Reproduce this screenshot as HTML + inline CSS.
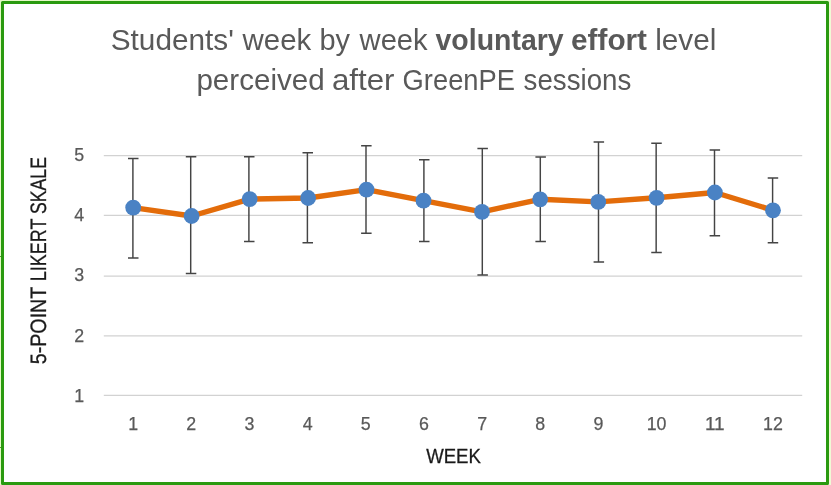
<!DOCTYPE html>
<html><head><meta charset="utf-8"><title>Chart</title>
<style>
html,body{margin:0;padding:0;background:#fff;}
body{width:831px;height:485px;overflow:hidden;}
svg{display:block;}
text{font-family:"Liberation Sans",sans-serif;}
</style></head><body>
<svg width="831" height="485" viewBox="0 0 831 485">
<rect x="0" y="0" width="831" height="485" fill="#e4fac6"/>
<rect x="827" y="0" width="4" height="485" fill="#f0fad6"/>
<rect x="0" y="256" width="2" height="1" fill="#5a9636"/>
<rect x="0" y="447" width="2" height="1" fill="#5a9636"/>
<rect x="2.5" y="2.5" width="825" height="481" fill="#fff" stroke="#2a9a10" stroke-width="3" stroke-linejoin="round"/>

<line x1="103.8" x2="802.2" y1="155.55" y2="155.55" stroke="#d2d2d2" stroke-width="1.3"/>
<line x1="103.8" x2="802.2" y1="215.4" y2="215.4" stroke="#d2d2d2" stroke-width="1.3"/>
<line x1="103.8" x2="802.2" y1="276.1" y2="276.1" stroke="#d2d2d2" stroke-width="1.3"/>
<line x1="103.8" x2="802.2" y1="335.9" y2="335.9" stroke="#d2d2d2" stroke-width="1.3"/>
<line x1="103.8" x2="802.2" y1="395.4" y2="395.4" stroke="#d2d2d2" stroke-width="1.3"/>
<path d="M132.9 158.4V258.0M128.00 158.4H138.50M128.00 258.0H138.50" stroke="#444444" stroke-width="1.45" fill="none"/>
<path d="M190.7 156.8V273.5M185.80 156.8H196.30M185.80 273.5H196.30" stroke="#444444" stroke-width="1.45" fill="none"/>
<path d="M248.9 156.8V241.4M244.00 156.8H254.50M244.00 241.4H254.50" stroke="#444444" stroke-width="1.45" fill="none"/>
<path d="M307.4 152.8V242.7M302.50 152.8H313.00M302.50 242.7H313.00" stroke="#444444" stroke-width="1.45" fill="none"/>
<path d="M366.0 145.7V233.2M361.10 145.7H371.60M361.10 233.2H371.60" stroke="#444444" stroke-width="1.45" fill="none"/>
<path d="M423.9 159.7V241.4M419.00 159.7H429.50M419.00 241.4H429.50" stroke="#444444" stroke-width="1.45" fill="none"/>
<path d="M482.3 148.5V274.9M477.40 148.5H487.90M477.40 274.9H487.90" stroke="#444444" stroke-width="1.45" fill="none"/>
<path d="M540.3 156.9V241.4M535.40 156.9H545.90M535.40 241.4H545.90" stroke="#444444" stroke-width="1.45" fill="none"/>
<path d="M598.5 141.9V262.0M593.60 141.9H604.10M593.60 262.0H604.10" stroke="#444444" stroke-width="1.45" fill="none"/>
<path d="M656.15 143.2V252.5M651.25 143.2H661.75M651.25 252.5H661.75" stroke="#444444" stroke-width="1.45" fill="none"/>
<path d="M714.5 150.0V235.8M709.60 150.0H720.10M709.60 235.8H720.10" stroke="#444444" stroke-width="1.45" fill="none"/>
<path d="M772.6 177.9V242.7M767.70 177.9H778.20M767.70 242.7H778.20" stroke="#444444" stroke-width="1.45" fill="none"/>
<path d="M133.20 207.6 L191.60 216.0 L249.70 199.1 L308.10 198.0 L366.50 189.65 L423.50 200.7 L482.00 211.8 L540.15 199.3 L598.25 201.9 L656.60 197.8 L714.90 192.5 L772.97 210.3" stroke="#e36c0a" stroke-width="5.4" fill="none" stroke-linejoin="round" stroke-linecap="round"/>
<circle cx="133.20" cy="207.6" r="7.9" fill="#4a82c4"/>
<circle cx="191.60" cy="216.0" r="7.9" fill="#4a82c4"/>
<circle cx="249.70" cy="199.1" r="7.9" fill="#4a82c4"/>
<circle cx="308.10" cy="198.0" r="7.9" fill="#4a82c4"/>
<circle cx="366.50" cy="189.65" r="7.9" fill="#4a82c4"/>
<circle cx="423.50" cy="200.7" r="7.9" fill="#4a82c4"/>
<circle cx="482.00" cy="211.8" r="7.9" fill="#4a82c4"/>
<circle cx="540.15" cy="199.3" r="7.9" fill="#4a82c4"/>
<circle cx="598.25" cy="201.9" r="7.9" fill="#4a82c4"/>
<circle cx="656.60" cy="197.8" r="7.9" fill="#4a82c4"/>
<circle cx="714.90" cy="192.5" r="7.9" fill="#4a82c4"/>
<circle cx="772.97" cy="210.3" r="7.9" fill="#4a82c4"/>
<text x="74.25" y="160.8" font-size="17.8" fill="#595959" stroke="#595959" stroke-width="0.25" textLength="9.90" lengthAdjust="spacingAndGlyphs">5</text>
<text x="74.25" y="221.1" font-size="17.8" fill="#595959" stroke="#595959" stroke-width="0.25" textLength="9.90" lengthAdjust="spacingAndGlyphs">4</text>
<text x="74.25" y="281.3" font-size="17.8" fill="#595959" stroke="#595959" stroke-width="0.25" textLength="9.90" lengthAdjust="spacingAndGlyphs">3</text>
<text x="74.25" y="341.6" font-size="17.8" fill="#595959" stroke="#595959" stroke-width="0.25" textLength="9.90" lengthAdjust="spacingAndGlyphs">2</text>
<text x="74.25" y="401.85" font-size="17.8" fill="#595959" stroke="#595959" stroke-width="0.25" textLength="9.90" lengthAdjust="spacingAndGlyphs">1</text>
<text x="128.15" y="429.6" font-size="17.8" fill="#595959" stroke="#595959" stroke-width="0.25" textLength="9.90" lengthAdjust="spacingAndGlyphs">1</text>
<text x="186.32" y="429.6" font-size="17.8" fill="#595959" stroke="#595959" stroke-width="0.25" textLength="9.90" lengthAdjust="spacingAndGlyphs">2</text>
<text x="244.49" y="429.6" font-size="17.8" fill="#595959" stroke="#595959" stroke-width="0.25" textLength="9.90" lengthAdjust="spacingAndGlyphs">3</text>
<text x="302.66" y="429.6" font-size="17.8" fill="#595959" stroke="#595959" stroke-width="0.25" textLength="9.90" lengthAdjust="spacingAndGlyphs">4</text>
<text x="360.83" y="429.6" font-size="17.8" fill="#595959" stroke="#595959" stroke-width="0.25" textLength="9.90" lengthAdjust="spacingAndGlyphs">5</text>
<text x="419.00" y="429.6" font-size="17.8" fill="#595959" stroke="#595959" stroke-width="0.25" textLength="9.90" lengthAdjust="spacingAndGlyphs">6</text>
<text x="477.17" y="429.6" font-size="17.8" fill="#595959" stroke="#595959" stroke-width="0.25" textLength="9.90" lengthAdjust="spacingAndGlyphs">7</text>
<text x="535.34" y="429.6" font-size="17.8" fill="#595959" stroke="#595959" stroke-width="0.25" textLength="9.90" lengthAdjust="spacingAndGlyphs">8</text>
<text x="593.51" y="429.6" font-size="17.8" fill="#595959" stroke="#595959" stroke-width="0.25" textLength="9.90" lengthAdjust="spacingAndGlyphs">9</text>
<text x="646.73" y="429.6" font-size="17.8" fill="#595959" stroke="#595959" stroke-width="0.25" textLength="19.79" lengthAdjust="spacingAndGlyphs">10</text>
<text x="704.90" y="429.6" font-size="17.8" fill="#595959" stroke="#595959" stroke-width="0.25" textLength="19.79" lengthAdjust="spacingAndGlyphs">11</text>
<text x="763.07" y="429.6" font-size="17.8" fill="#595959" stroke="#595959" stroke-width="0.25" textLength="19.79" lengthAdjust="spacingAndGlyphs">12</text>
<text y="49.5" font-size="28.8" fill="#595959"><tspan x="110.74" textLength="123.17" lengthAdjust="spacingAndGlyphs">Students'</tspan> <tspan x="242.62" textLength="68.70" lengthAdjust="spacingAndGlyphs">week</tspan> <tspan x="319.51" textLength="30.58" lengthAdjust="spacingAndGlyphs">by</tspan> <tspan x="359.55" textLength="68.16" lengthAdjust="spacingAndGlyphs">week</tspan> <tspan x="435.56" font-weight="bold" textLength="128.09" lengthAdjust="spacingAndGlyphs">voluntary</tspan> <tspan x="571.10" font-weight="bold" textLength="75.93" lengthAdjust="spacingAndGlyphs">effort</tspan> <tspan x="655.21" textLength="61.19" lengthAdjust="spacingAndGlyphs">level</tspan></text>
<text y="89.5" font-size="28.8" fill="#595959"><tspan x="196.40" textLength="128.35" lengthAdjust="spacingAndGlyphs">perceived</tspan> <tspan x="331.90" textLength="62.57" lengthAdjust="spacingAndGlyphs">after</tspan> <tspan x="402.61" textLength="112.38" lengthAdjust="spacingAndGlyphs">GreenPE</tspan> <tspan x="523.55" textLength="107.78" lengthAdjust="spacingAndGlyphs">sessions</tspan></text>
<text x="426.22" y="463.3" font-size="20.3" fill="#1a1a1a" stroke="#1a1a1a" stroke-width="0.3" textLength="54.64" lengthAdjust="spacingAndGlyphs">WEEK</text>
<text transform="translate(45.75,400) rotate(-90.03)" font-size="22.3" fill="#1a1a1a" stroke="#1a1a1a" stroke-width="0.3"><tspan x="35.79" textLength="77.17" lengthAdjust="spacingAndGlyphs">5-POINT</tspan> <tspan x="118.86" textLength="62.19" lengthAdjust="spacingAndGlyphs">LIKERT</tspan> <tspan x="186.08" textLength="56.82" lengthAdjust="spacingAndGlyphs">SKALE</tspan></text>
</svg></body></html>
